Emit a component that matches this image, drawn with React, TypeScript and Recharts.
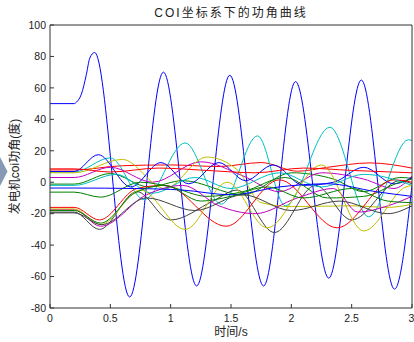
import React from 'react';
import { LineChart, Line, XAxis, YAxis } from 'recharts';

const xTicks = [0, 0.5, 1, 1.5, 2, 2.5, 3];
const yTicks = [-80, -60, -40, -20, 0, 20, 40, 60, 80, 100];

const titleText = 'COI坐标系下的功角曲线';
const yLabelText = '发电机coi功角(度)';
const xLabelText = '时间/s';

// MATLAB default colour order: b g r c m y k
const colorOrder = ['#0000ff', '#008000', '#ff0000', '#00bfbf', '#bf00bf', '#bfbf00', '#404040'];

// [time (s), angle (deg)]
const gen01: [number, number][] = [[0, 50], [0.2, 50], [0.22, 51], [0.26, 56], [0.3, 68], [0.33, 79], [0.37, 82.5], [0.66, -73], [0.94, 70], [1.215, -66], [1.49, 68], [1.77, -66], [2.035, 64], [2.31, -61], [2.58, 65], [2.855, -68], [3, -2]];
const gen02: [number, number][] = [[0, -1.2], [0.2, -1.2], [0.5, 5.5], [0.82, -3], [1.1, 1], [1.6, -8], [2.0, 6], [2.35, 2], [2.6, -6], [2.9, 3], [3, 2.5]];
const gen03: [number, number][] = [[0, 7.8], [0.2, 7.8], [0.6, 10.5], [1.0, 11], [1.4, 10], [1.75, 12.5], [2.05, 7], [2.3, 9.5], [2.65, 12.3], [3, 9]];
const gen04: [number, number][] = [[0, 6.5], [0.2, 6.5], [0.5, 15.5], [0.78, -11], [1.12, 25], [1.42, -14], [1.72, 29.5], [1.95, -15], [2.32, 35], [2.64, -22], [2.97, 27], [3, 26.5]];
const gen05: [number, number][] = [[0, 3], [0.2, 3], [0.5, 9.5], [0.85, 0], [1.25, 13], [1.6, 4], [1.9, -6], [2.25, 6], [2.6, 2], [2.85, -4], [3, 4]];
const gen06: [number, number][] = [[0, 6], [0.2, 6], [0.6, 14.5], [0.95, -4], [1.3, 16], [1.55, 8], [1.75, -13], [2.0, -15.5], [2.5, -15], [2.8, -16], [3, -14]];
const gen07: [number, number][] = [[0, -19], [0.2, -19], [0.41, -30], [0.72, -6], [1.0, -24], [1.35, -12], [1.55, -5], [1.86, -32], [2.2, -2], [2.5, -24], [2.9, 1], [3, -1]];
const gen08: [number, number][] = [[0, 6.8], [0.2, 6.8], [0.4, 17.5], [0.67, -3], [0.92, 12.5], [1.15, -1], [1.4, 12.5], [1.62, 1], [1.85, 11], [2.1, -2], [2.35, 0], [2.6, 9.5], [2.85, -1], [3, 3]];
const gen09: [number, number][] = [[0, -6.3], [0.2, -6.3], [0.42, -9.5], [0.75, 0], [1.0, -3], [1.3, -9], [1.6, -6], [1.95, 3], [2.3, -10], [2.6, -9], [2.9, 0], [3, 2]];
const gen10: [number, number][] = [[0, -16], [0.2, -16], [0.41, -24], [0.72, -4], [0.95, -2], [1.46, -28], [1.9, 1.5], [2.38, -29], [2.85, 1.5], [3, 0]];
const gen11: [number, number][] = [[0, -2], [0.2, -2], [0.55, 5], [0.85, -7], [1.2, 3], [1.5, -4], [1.9, 6], [2.25, -3], [2.6, 5], [3, -2]];
const gen12: [number, number][] = [[0, -17.5], [0.2, -17.5], [0.42, -28], [0.8, -8], [1.1, -2], [1.4, -15], [1.7, -20], [2.05, -10], [2.35, -4], [2.55, -19], [2.8, -15], [3, -9]];
const gen13: [number, number][] = [[0, -17], [0.2, -17], [0.42, -27], [0.75, -5], [1.12, -30], [1.47, 0], [1.8, -29], [2.25, 11], [2.6, -31], [2.95, -3], [3, -2]];
const gen14: [number, number][] = [[0, -19.5], [0.2, -19.5], [0.43, -27], [0.8, -10], [1.2, -18], [1.6, -8], [2.0, -18], [2.4, -12], [2.8, -20], [3, -15]];
const gen15: [number, number][] = [[0, -3.7], [0.2, -3.7], [0.7, -4], [1.1, -5], [1.5, -8], [1.9, -3], [2.3, -1], [2.7, -6], [3, -9]];
const gen16: [number, number][] = [[0, -18], [0.2, -18], [0.42, -26], [0.7, -7], [0.95, -2], [1.25, -12], [1.5, -9], [1.8, -3], [2.1, -10], [2.5, -4], [2.8, -12], [3, -13]];
const gen17: [number, number][] = [[0, 8.5], [0.2, 8.5], [0.5, 6.5], [0.9, 9], [1.3, 7.5], [1.7, 6], [2.1, 9], [2.5, 7.5], [3, 6]];

const generators = [gen01, gen02, gen03, gen04, gen05, gen06, gen07, gen08, gen09, gen10, gen11, gen12, gen13, gen14, gen15, gen16, gen17];

const FONT = '"Liberation Sans", Arial, "Noto Sans CJK SC", sans-serif';
const AXIS = '#333333';

export default function App() {
  return (
    <div style={{ position: 'absolute', left: 0, top: 0, width: 414, height: 342, background: '#ffffff', overflow: 'hidden' }}>
      <svg width={10} height={342} style={{ position: 'absolute', left: 0, top: 0 }}>
        <polygon points="0,157 7.5,171.5 0,186" fill="#8799b3" />
      </svg>
      <LineChart width={414} height={342} margin={{ top: 24, right: 1, bottom: 0, left: 0 }} style={{ position: 'absolute', left: 0, top: 0 }}>
        <XAxis
          xAxisId="b"
          dataKey="t"
          type="number"
          domain={[0, 3]}
          ticks={xTicks}
          allowDataOverflow
          height={34}
          tickSize={-4}
          tickMargin={11}
          axisLine={{ stroke: AXIS }}
          tickLine={{ stroke: AXIS }}
          tick={{ fontSize: 10.5, fill: '#222', fontFamily: FONT }}
          tickFormatter={(v: number) => String(v)}
          label={{ value: xLabelText, position: 'insideBottom', offset: 6, style: { fontSize: 12, fill: '#222', fontFamily: FONT } }}
        />
        <XAxis
          xAxisId="t"
          orientation="top"
          type="number"
          domain={[0, 3]}
          ticks={xTicks}
          allowDataOverflow
          height={1}
          tickSize={-4}
          tick={false}
          axisLine={{ stroke: AXIS }}
          tickLine={{ stroke: AXIS }}
          label={{ value: titleText, position: 'top', offset: 7, style: { fontSize: 12, fill: '#222', fontFamily: FONT, letterSpacing: 2 } }}
        />
        <YAxis
          yAxisId="l"
          type="number"
          domain={[-80, 100]}
          ticks={yTicks}
          allowDataOverflow
          width={50}
          tickSize={-4}
          tickMargin={8}
          axisLine={{ stroke: AXIS }}
          tickLine={{ stroke: AXIS }}
          tick={{ fontSize: 10.5, fill: '#222', fontFamily: FONT }}
          label={{ value: yLabelText, angle: -90, position: 'insideLeft', offset: 15, style: { fontSize: 12, fill: '#222', fontFamily: FONT, textAnchor: 'middle' } }}
        />
        <YAxis
          yAxisId="r"
          orientation="right"
          type="number"
          domain={[-80, 100]}
          ticks={yTicks}
          allowDataOverflow
          width={1}
          tickSize={-4}
          tick={false}
          axisLine={{ stroke: AXIS }}
          tickLine={{ stroke: AXIS }}
        />
        {generators.map((g, i) => (
          <Line
            key={i}
            xAxisId="b"
            yAxisId="l"
            data={g.map(([t, v]) => ({ t, v }))}
            dataKey="v"
            type="monotone"
            dot={false}
            activeDot={false}
            stroke={colorOrder[i % colorOrder.length]}
            strokeWidth={1}
            isAnimationActive={false}
          />
        ))}
      </LineChart>
    </div>
  );
}
